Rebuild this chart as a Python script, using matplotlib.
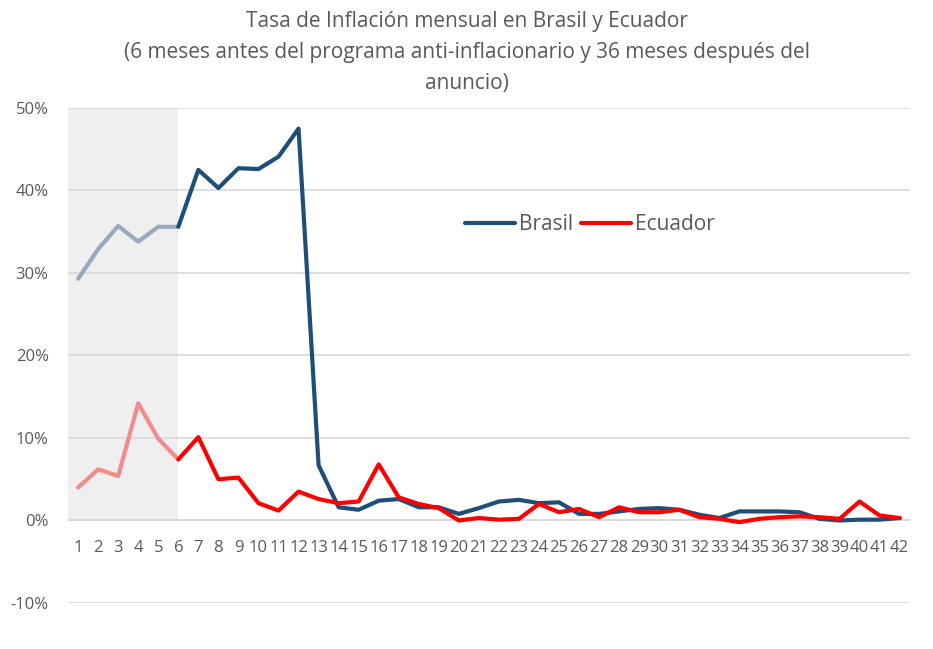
import matplotlib.pyplot as plt
from matplotlib.ticker import FuncFormatter

plt.rcParams['font.family'] = ['Open Sans', 'DejaVu Sans']

meses = list(range(1, 43))
brasil = [29.3, 32.9, 35.7, 33.8, 35.6, 35.6, 42.5, 40.3, 42.7, 42.6,
          44.1, 47.5, 6.7, 1.6, 1.3, 2.4, 2.6, 1.6, 1.6, 0.8,
          1.5, 2.3, 2.5, 2.1, 2.2, 0.8, 0.8, 1.1, 1.4, 1.5,
          1.3, 0.7, 0.3, 1.1, 1.1, 1.1, 1.0, 0.2, 0.0, 0.1,
          0.1, 0.3]
ecuador = [4.0, 6.2, 5.4, 14.2, 9.9, 7.4, 10.1, 5.0, 5.2, 2.1,
           1.2, 3.5, 2.6, 2.1, 2.3, 6.8, 2.8, 2.0, 1.5, 0.0,
           0.3, 0.1, 0.2, 2.0, 1.0, 1.4, 0.4, 1.6, 1.0, 1.0,
           1.3, 0.4, 0.2, -0.2, 0.2, 0.4, 0.5, 0.4, 0.2, 2.3,
           0.6, 0.3]
meses_antes = 6

gris = '#595959'
fig = plt.figure(figsize=(9.33, 6.49), dpi=100)
ax = fig.add_axes([0.073, 0.0709, 0.902, 0.7627])

# zona sombreada: meses previos al programa
ax.fill_between([0.5, meses_antes], 0, 50, color='#EFEFEF', zorder=0, lw=0)

k = meses_antes
ax.plot(meses[:k], brasil[:k], color='#97AABD', lw=3, solid_capstyle='round', zorder=3)
ax.plot(meses[:k], ecuador[:k], color='#F28B8B', lw=3, solid_capstyle='round', zorder=3)
ax.plot(meses[k - 1:], brasil[k - 1:], color='#1F4E79', lw=3, solid_capstyle='round',
        solid_joinstyle='round', zorder=4, label='Brasil')
ax.plot(meses[k - 1:], ecuador[k - 1:], color='#FF0000', lw=3, solid_capstyle='round',
        solid_joinstyle='round', zorder=5, label='Ecuador')

ax.set_xlim(0.5, 42.5)
ax.set_ylim(-10, 50)
ax.set_yticks(range(-10, 51, 10))
ax.yaxis.set_major_formatter(FuncFormatter(lambda v, p: f'{v:.0f}%'))
ax.set_xticks(meses)
ax.set_xticklabels([str(m) for m in meses])
ax.grid(axis='y', color='#D9D9D9', lw=1.2, zorder=1)
ax.set_axisbelow(True)
for s in ['top', 'right', 'left']:
    ax.spines[s].set_visible(False)
ax.spines['bottom'].set_position(('data', 0))
ax.spines['bottom'].set_color('#D9D9D9')
ax.spines['bottom'].set_linewidth(1.2)
ax.tick_params(axis='both', length=0, labelsize=12, colors=gris)
ax.tick_params(axis='x', pad=14)
ax.tick_params(axis='y', pad=14)

ax.legend(loc='center', bbox_to_anchor=(0.62, 0.765), ncol=2, frameon=False,
          fontsize=15, labelcolor=gris, handlelength=2.4, handletextpad=0.2,
          columnspacing=0.4)

fig.text(0.5, 0.983, 'Tasa de Inflación mensual en Brasil y Ecuador\n'
         '(6 meses antes del programa anti-inflacionario y 36 meses después del\n'
         'anuncio)', ha='center', va='top', fontsize=15, color=gris, linespacing=1.62)

fig.savefig('out.png', dpi=100)
